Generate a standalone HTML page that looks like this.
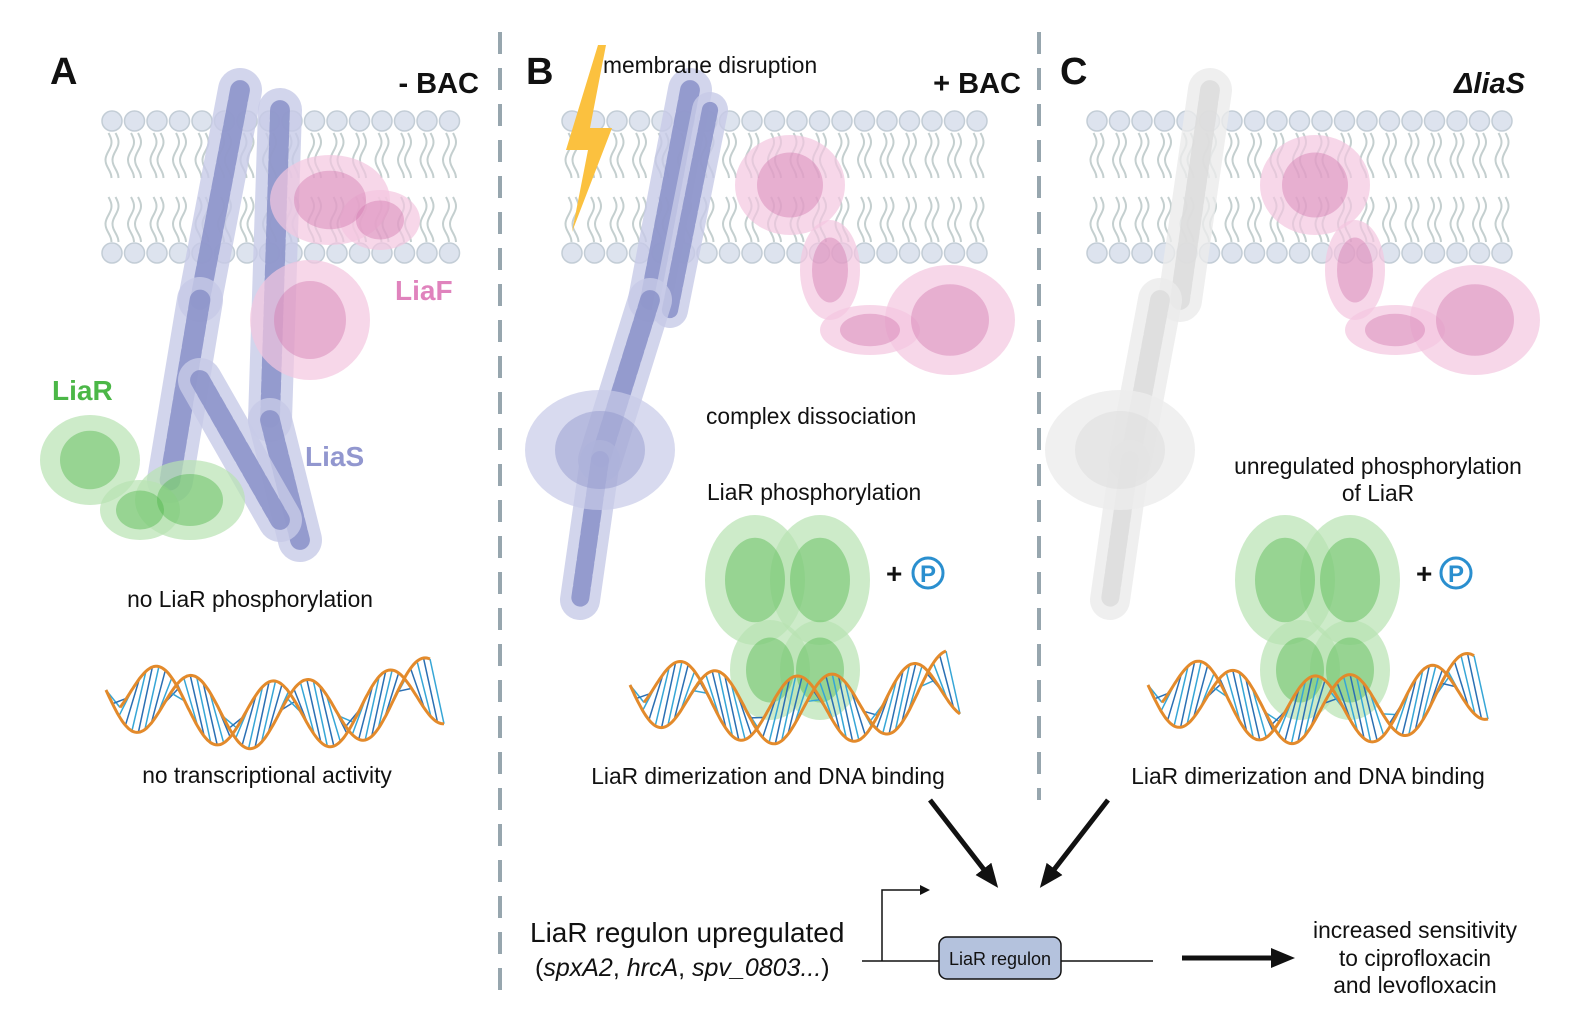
<!DOCTYPE html>
<html><head><meta charset="utf-8"><style>
html,body{margin:0;padding:0;background:#fff}
svg{display:block}
text{font-family:"Liberation Sans",Arial,sans-serif}
</style></head><body>
<svg id="s" width="1570" height="1032" viewBox="0 0 1570 1032" xmlns="http://www.w3.org/2000/svg">
<defs>
<marker id="ah" markerWidth="10" markerHeight="10" refX="6" refY="5" orient="auto" markerUnits="userSpaceOnUse"><path d="M0,0 L10,5 L0,10 Z" fill="#111"/></marker>
<marker id="ab" markerWidth="24" markerHeight="24" refX="14" refY="12" orient="auto" markerUnits="userSpaceOnUse"><path d="M0,2 L24,12 L0,22 Z" fill="#111"/></marker>
</defs>
<g id="mem"></g>
<g id="prot"></g>
<g id="dna"></g>
<line x1="500" y1="32" x2="500" y2="992" stroke="#97a6ae" stroke-width="4" stroke-dasharray="22,14"/>
<line x1="1039" y1="32" x2="1039" y2="800" stroke="#97a6ae" stroke-width="4" stroke-dasharray="22,14"/>
<path d="M598,45 L566,150 L588,150 L572,232 L612,128 L590,128 L606,45 Z" fill="#fbc13f"/>
<g font-weight="bold" font-size="38" fill="#111">
<text x="50" y="84">A</text><text x="526" y="84">B</text><text x="1060" y="84">C</text>
</g>
<g font-weight="bold" font-size="29" fill="#111" text-anchor="end">
<text x="479" y="93">- BAC</text><text x="1021" y="93">+ BAC</text>
<text x="1525" y="93" font-style="italic">ΔliaS</text>
</g>
<g font-weight="bold" font-size="28">
<text x="395" y="300" fill="#e083bd">LiaF</text>
<text x="52" y="400" fill="#4bb747">LiaR</text>
<text x="305" y="466" fill="#9297cf">LiaS</text>
</g>
<g font-size="22.8" fill="#111">
<text x="250" y="607" text-anchor="middle">no LiaR phosphorylation</text>
<text x="267" y="783" text-anchor="middle">no transcriptional activity</text>
<text x="603" y="73">membrane disruption</text>
<text x="706" y="424">complex dissociation</text>
<text x="707" y="500">LiaR phosphorylation</text>
<text x="768" y="784" text-anchor="middle">LiaR dimerization and DNA binding</text>
<text x="1378" y="474" text-anchor="middle">unregulated phosphorylation</text>
<text x="1378" y="501" text-anchor="middle">of LiaR</text>
<text x="1308" y="784" text-anchor="middle">LiaR dimerization and DNA binding</text>
<text x="1415" y="938" text-anchor="middle">increased sensitivity</text>
<text x="1415" y="966" text-anchor="middle">to ciprofloxacin</text>
<text x="1415" y="993" text-anchor="middle">and levofloxacin</text>
</g>
<text x="530" y="942" font-size="28" fill="#111">LiaR regulon upregulated</text>
<text x="535" y="976" font-size="25" fill="#111">(<tspan font-style="italic">spxA2</tspan>, <tspan font-style="italic">hrcA</tspan>, <tspan font-style="italic">spv_0803...</tspan>)</text>
<g>
<text x="886" y="583" font-size="28" font-weight="bold" fill="#111">+</text>
<circle cx="928" cy="573" r="15" fill="#fff" stroke="#2a8fcf" stroke-width="3"/>
<text x="928" y="582" font-size="24" font-weight="bold" fill="#2a8fcf" text-anchor="middle">P</text>
<text x="1416" y="583" font-size="28" font-weight="bold" fill="#111">+</text>
<circle cx="1456" cy="573" r="15" fill="#fff" stroke="#2a8fcf" stroke-width="3"/>
<text x="1456" y="582" font-size="24" font-weight="bold" fill="#2a8fcf" text-anchor="middle">P</text>
</g>
<line x1="930" y1="800" x2="992" y2="880" stroke="#111" stroke-width="5" marker-end="url(#ab)"/>
<line x1="1108" y1="800" x2="1046" y2="880" stroke="#111" stroke-width="5" marker-end="url(#ab)"/>
<line x1="1182" y1="958" x2="1285" y2="958" stroke="#111" stroke-width="5" marker-end="url(#ab)"/>
<line x1="862" y1="961" x2="1153" y2="961" stroke="#111" stroke-width="1.5"/>
<polyline points="882,961 882,890 926,890" fill="none" stroke="#111" stroke-width="1.5" marker-end="url(#ah)"/>
<rect x="939" y="937" width="122" height="42" rx="8" fill="#b4c2dd" stroke="#111" stroke-width="1.5"/>
<text x="1000" y="965" font-size="18" fill="#111" text-anchor="middle">LiaR regulon</text>
</svg>
<script>
var NS="http://www.w3.org/2000/svg";
function el(p,t,a){var e=document.createElementNS(NS,t);for(var k in a)e.setAttribute(k,a[k]);p.appendChild(e);return e;}
var mem=document.getElementById('mem');
function membrane(x0,x1){
  for(var x=x0;x<=x1;x+=22.5){
    [[133,178],[197,242]].forEach(function(r){
      [-3.5,3.5].forEach(function(dx){
        var d="M"+(x+dx)+","+r[0];var n=24;
        for(var i=1;i<=n;i++){var y=r[0]+(r[1]-r[0])*i/n;d+=" L"+(x+dx+3*Math.sin(i/n*Math.PI*2.5)).toFixed(1)+","+y.toFixed(1);}
        el(mem,'path',{d:d,fill:'none',stroke:'#c4cfcf','stroke-width':2});
      });
    });
    el(mem,'circle',{cx:x,cy:121,r:10,fill:'#dde3ee',stroke:'#c3cdd6','stroke-width':1.5});
    el(mem,'circle',{cx:x,cy:253,r:10,fill:'#dde3ee',stroke:'#c3cdd6','stroke-width':1.5});
  }
}
membrane(112,450);membrane(572,992);membrane(1097,1522);
var pr=document.getElementById('prot');
function blob(pts,light,dark,op){
  pts.forEach(function(p){el(pr,'ellipse',{cx:p[0],cy:p[1],rx:p[2],ry:p[3],fill:light,opacity:op||0.7});});
  pts.forEach(function(p){el(pr,'ellipse',{cx:p[0],cy:p[1],rx:p[2]*0.6,ry:p[3]*0.65,fill:dark,opacity:(op||0.7)*0.6});});
}
function rod(x0,y0,x1,y1,w,light,dark,op){
  el(pr,'line',{x1:x0,y1:y0,x2:x1,y2:y1,stroke:light,'stroke-width':w,'stroke-linecap':'round',opacity:op||0.8});
  el(pr,'line',{x1:x0,y1:y0,x2:x1,y2:y1,stroke:dark,'stroke-width':w*0.45,'stroke-linecap':'round','stroke-dasharray':'9,4',opacity:op||0.85});
}
var SL='#c8cbe8',SD='#8a92c9',FL='#f3c6df',FD='#d278ad',RL='#b8e2b2',RD='#4cb548',GL='#ececec',GD='#dcdcdc';
rod(240,90,200,300,44,SL,SD);rod(280,110,270,420,44,SL,SD);rod(200,300,170,480,46,SL,SD);rod(270,420,300,540,44,SL,SD);
rod(200,380,280,520,44,SL,SD);
blob([[330,200,60,45],[380,220,40,30]],FL,FD);
blob([[310,320,60,60]],FL,FD);
blob([[90,460,50,45],[190,500,55,40],[140,510,40,30]],RL,RD);
rod(690,90,650,300,44,SL,SD);rod(710,110,670,310,36,SL,SD);rod(650,300,600,460,44,SL,SD);rod(600,460,580,600,40,SL,SD);
blob([[600,450,75,60]],SL,SD);
blob([[790,185,55,50],[830,270,30,50],[870,330,50,25],[950,320,65,55]],FL,FD);
blob([[755,580,50,65],[820,580,50,65],[770,670,40,50],[820,670,40,50]],RL,RD);
rod(1210,90,1180,300,44,GL,GD,0.8);rod(1160,300,1130,460,44,GL,GD,0.8);rod(1130,460,1110,600,40,GL,GD,0.8);
blob([[1120,450,75,60]],GL,GD,0.8);
blob([[1315,185,55,50],[1355,270,30,50],[1395,330,50,25],[1475,320,65,55]],FL,FD);
blob([[1285,580,50,65],[1350,580,50,65],[1300,670,40,50],[1350,670,40,50]],RL,RD);
var dn=document.getElementById('dna');
function dna(x0,x1,yc,amp,per,bend){
  var n=200,a=[],b=[];
  for(var i=0;i<=n;i++){var t=i/n,x=x0+(x1-x0)*t;var c=yc+bend*(1-Math.pow(2*t-1,2));var ph=2*Math.PI*(x-x0)/per;
    a.push([x,c+amp*Math.sin(ph)]);b.push([x+14,c+amp*Math.sin(ph+2.6)]);}
  for(var i=0;i<=n;i+=4){el(dn,'line',{x1:a[i][0],y1:a[i][1],x2:b[i][0],y2:b[i][1],stroke:i%8?'#2b6fb3':'#36a6d6','stroke-width':1.5});}
  [a,b].forEach(function(s){el(dn,'path',{d:'M'+s.map(function(p){return p[0].toFixed(1)+','+p[1].toFixed(1)}).join(' L'),fill:'none',stroke:'#e38a2b','stroke-width':3});});
}
dna(106,430,690,34,115,25);
dna(630,946,685,34,115,25);
dna(1148,1474,685,34,115,25);
</script>
</body></html>
